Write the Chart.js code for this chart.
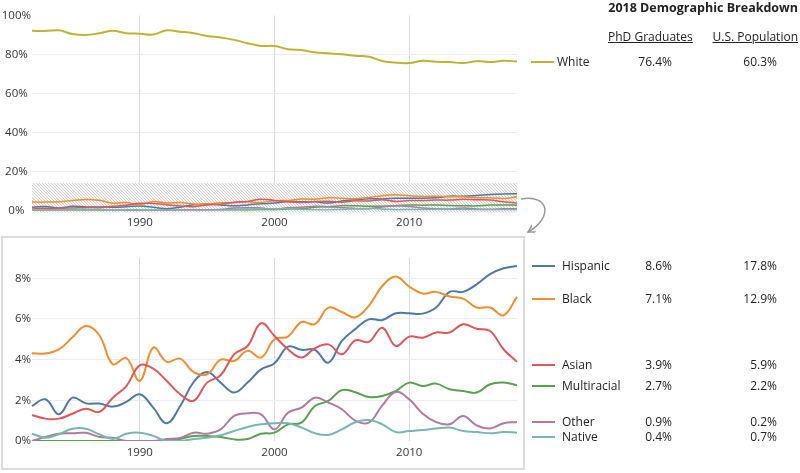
<!DOCTYPE html>
<html>
<head>
<meta charset="utf-8">
<script src="https://cdn.jsdelivr.net/npm/chart.js@4.4.1/dist/chart.umd.min.js"></script>
<style>
  body { margin: 0; width: 800px; height: 473px; position: relative; background: #fff; overflow: hidden;
         font-family: 'Open Sans', sans-serif; color: #222; }
  canvas { position: absolute; left: 0; }
  #topChart { top: 0; }
  #bottomChart { top: 240px; }
  .box { position: absolute; left: 1px; top: 236px; width: 520px; height: 230px; border: 2px solid #dcdcdc; }
  .txt { position: absolute; white-space: nowrap; font-size: 12px; line-height: 16px; }
  .swatch { position: absolute; width: 23px; height: 2px; }
  #arrow { position: absolute; left: 0; top: 0; pointer-events: none; }
</style>
</head>
<body>
<div class="box"></div>
<canvas id="topChart" width="525" height="232"></canvas>
<canvas id="bottomChart" width="525" height="228"></canvas>
<svg id="arrow" width="800" height="473">
  <defs>
    <marker id="ah" markerWidth="10" markerHeight="10" refX="7" refY="4" orient="auto" markerUnits="userSpaceOnUse">
      <path d="M0,0 L7,4 L0,8" fill="none" stroke="#999" stroke-width="1.5"/>
    </marker>
  </defs>
  <path d="M521,199 C550,194 553,218 528,232" fill="none" stroke="#999" stroke-width="1.5" marker-end="url(#ah)"/>
</svg>
<div id="legend"></div>

<script>
const years = [1982, 1983, 1984, 1985, 1986, 1987, 1988, 1989, 1990, 1991, 1992, 1993, 1994,
               1995, 1996, 1997, 1998, 1999, 2000, 2001, 2002, 2003, 2004, 2005, 2006, 2007,
               2008, 2009, 2010, 2011, 2012, 2013, 2014, 2015, 2016, 2017, 2018];
const tickYears = [1990, 2000, 2010];

// share of PhD graduates, percent
const white = [92.2, 92.0, 92.4, 90.5, 90.0, 90.9, 92.2, 90.9, 90.7, 90.2, 92.4, 91.7, 90.9,
               89.5, 88.7, 87.5, 85.8, 84.4, 84.4, 82.7, 82.3, 81.1, 80.6, 80.1, 79.4, 78.9,
               76.7, 75.8, 75.6, 76.8, 76.3, 76.1, 75.6, 76.6, 76.1, 76.8, 76.4];
const hispanic = [1.72, 2.05, 1.31, 2.13, 1.85, 1.84, 1.69, 1.92, 2.3, 1.64, 0.87, 1.72, 2.9,
                  3.39, 2.87, 2.38, 2.87, 3.52, 3.82, 4.64, 4.48, 4.48, 3.85, 4.92, 5.5, 5.98,
                  5.95, 6.28, 6.28, 6.26, 6.56, 7.33, 7.33, 7.7, 8.2, 8.49, 8.6];
const black = [4.31, 4.3, 4.5, 5.1, 5.65, 5.2, 3.77, 4.08, 2.95, 4.59, 3.89, 4.05, 3.38,
               3.28, 4.0, 3.93, 4.43, 4.1, 5.0, 5.13, 5.85, 5.74, 6.56, 6.34, 6.08, 6.64,
               7.62, 8.08, 7.59, 7.25, 7.33, 7.1, 7.0, 6.56, 6.56, 6.18, 7.08];
const asian = [1.28, 1.1, 1.1, 1.34, 1.59, 1.43, 2.13, 2.7, 3.72, 3.56, 2.95, 2.3, 1.98,
               2.87, 3.23, 4.26, 4.67, 5.79, 5.16, 4.51, 4.1, 4.56, 4.75, 4.26, 4.95, 4.87,
               5.57, 4.67, 5.13, 5.08, 5.33, 5.33, 5.74, 5.52, 5.41, 4.51, 3.89];
const multiracial = [0, 0, 0, 0, 0, 0, 0, 0, 0, 0, 0, 0.1, 0.25,
                     0.25, 0.2, 0.08, 0.1, 0.36, 0.41, 0.82, 0.9, 1.72, 1.97, 2.5, 2.4, 2.16,
                     2.21, 2.46, 2.87, 2.7, 2.82, 2.54, 2.46, 2.38, 2.79, 2.87, 2.74];
const other = [0, 0.2, 0.36, 0.38, 0.4, 0.2, 0.16, 0, 0, 0, 0.1, 0.15, 0.41,
               0.36, 0.57, 1.23, 1.36, 1.31, 0.57, 1.39, 1.64, 2.13, 1.89, 1.56, 1.0, 0.9,
               1.75, 2.41, 2.05, 1.34, 0.93, 0.82, 1.23, 0.77, 0.62, 0.87, 0.93];
const native = [0.36, 0.16, 0.33, 0.6, 0.6, 0.33, 0.1, 0.36, 0.41, 0.25, 0, 0, 0.1,
                0.16, 0.28, 0.49, 0.69, 0.82, 0.87, 0.87, 0.66, 0.38, 0.3, 0.57, 0.92, 1.03,
                0.82, 0.44, 0.49, 0.54, 0.61, 0.66, 0.49, 0.44, 0.38, 0.44, 0.41];

// 2018 breakdown table
const groupNames = ['White', 'Hispanic', 'Black', 'Asian', 'Multiracial', 'Other', 'Native'];
const phdShare = ['76.4%', '8.6%', '7.1%', '3.9%', '2.7%', '0.9%', '0.4%'];
const usShare = ['60.3%', '17.8%', '12.9%', '5.9%', '2.2%', '0.2%', '0.7%'];

const topTicks = [0, 20, 40, 60, 80, 100];
const bottomTicks = [0, 2, 4, 6, 8];
const hatchTop = 14;

const colors = {
    White: '#c2b232', Hispanic: '#4e79a7', Black: '#f28e2b', Asian: '#e15759',
    Multiracial: '#59a14f', Other: '#b07aa1', Native: '#76b7b2'
};

Chart.defaults.font.family = "'Open Sans', sans-serif";
Chart.defaults.color = '#333';

function lineSet(label, data, width) {
    return { label, data, borderColor: colors[label], borderWidth: width, pointRadius: 0,
             tension: 0.4, fill: false };
}

function hatchPattern(ctx) {
    const c = document.createElement('canvas');
    c.width = 3; c.height = 3;
    const g = c.getContext('2d');
    g.fillStyle = '#f7f7f7';
    g.fillRect(0, 0, 3, 3);
    g.strokeStyle = '#c6c6c6';
    g.lineWidth = 0.9;
    g.beginPath();
    g.moveTo(0, 0); g.lineTo(3, 3);
    g.moveTo(-1, 2); g.lineTo(1, 4);
    g.moveTo(2, -1); g.lineTo(4, 1);
    g.stroke();
    return ctx.createPattern(c, 'repeat');
}

const hatchPlugin = {
    id: 'hatch',
    beforeDatasetsDraw(chart, args, opts) {
        if (opts.upTo == null) return;
        const { ctx, chartArea, scales } = chart;
        const top = scales.y.getPixelForValue(opts.upTo);
        ctx.save();
        ctx.fillStyle = hatchPattern(ctx);
        ctx.fillRect(chartArea.left, top, chartArea.right - chartArea.left, chartArea.bottom + 2 - top);
        ctx.restore();
    }
};

function makeOptions(yMax, yTicks, xHeight, padTop, hatch) {
    return {
        responsive: false,
        animation: false,
        layout: { padding: { top: padTop, right: 8, left: 0, bottom: 0 } },
        plugins: { legend: { display: false }, tooltip: { enabled: false }, hatch: { upTo: hatch } },
        scales: {
            x: {
                type: 'category',
                offset: false,
                border: { display: false },
                grid: {
                    drawTicks: false,
                    color: ctx => tickYears.includes(years[ctx.index]) ? '#dadada' : 'rgba(0,0,0,0)'
                },
                ticks: {
                    autoSkip: false, maxRotation: 0, minRotation: 0, padding: 5,
                    font: { size: 11.5 },
                    callback: (v, i) => tickYears.includes(years[i]) ? String(years[i]) : ''
                },
                afterFit: s => { s.height = xHeight; }
            },
            y: {
                min: 0, max: yMax,
                border: { display: false },
                grid: {
                    drawTicks: false,
                    color: ctx => (ctx.tick && ctx.tick.value > 0 && ctx.tick.value < yMax) ? '#ececec' : 'rgba(0,0,0,0)'
                },
                ticks: { padding: 1, crossAlign: 'center', font: { size: 11.5 }, callback: v => v + '%' },
                afterBuildTicks: s => { s.ticks = yTicks.map(v => ({ value: v })); },
                afterFit: s => { s.width = 32; }
            }
        }
    };
}

const topChart = new Chart(document.getElementById('topChart'), {
    type: 'line',
    data: {
        labels: years,
        datasets: [
            lineSet('Native', native, 1.5),
            lineSet('Other', other, 1.5),
            lineSet('Multiracial', multiracial, 1.5),
            lineSet('Asian', asian, 1.5),
            lineSet('Black', black, 1.5),
            lineSet('Hispanic', hispanic, 1.5),
            lineSet('White', white, 2)
        ]
    },
    options: makeOptions(100, topTicks, 21.5, 15.5, hatchTop),
    plugins: [hatchPlugin]
});

const bottomChart = new Chart(document.getElementById('bottomChart'), {
    type: 'line',
    data: {
        labels: years,
        datasets: [
            lineSet('Native', native, 2),
            lineSet('Other', other, 2),
            lineSet('Multiracial', multiracial, 2),
            lineSet('Asian', asian, 2),
            lineSet('Black', black, 2),
            lineSet('Hispanic', hispanic, 2)
        ]
    },
    options: makeOptions(9, bottomTicks, 27, 17.9, null),
    plugins: [hatchPlugin]
});

// right-hand table
const legend = document.getElementById('legend');
function addText(text, css) {
    const el = document.createElement('div');
    el.className = 'txt';
    el.textContent = text;
    Object.assign(el.style, css);
    legend.appendChild(el);
    return el;
}

addText('2018 Demographic Breakdown', { right: '2px', top: '0px', fontWeight: '700', fontSize: '12.5px' });
addText('PhD Graduates', { left: '608px', top: '29px', textDecoration: 'underline' });
addText('U.S. Population', { right: '2px', top: '29px', textDecoration: 'underline' });

// row centres follow each series' last value, nudged apart where they crowd
const lastValues = [white, hispanic, black, asian, multiracial, other, native].map(a => a[a.length - 1]);
const nudge = [0, 0, 2, 3, 1, 0, 4];
groupNames.forEach((name, i) => {
    const chart = i === 0 ? topChart : bottomChart;
    const offset = i === 0 ? 0 : 240;
    const cy = offset + chart.scales.y.getPixelForValue(lastValues[i]) + nudge[i];
    const sw = document.createElement('div');
    sw.className = 'swatch';
    sw.style.left = (i === 0 ? 531 : 532) + 'px';
    sw.style.top = (cy - 1) + 'px';
    sw.style.background = colors[name];
    legend.appendChild(sw);
    addText(name, { left: (i === 0 ? 557 : 562) + 'px', top: (cy - 8) + 'px' });
    addText(phdShare[i], { right: '128px', top: (cy - 8) + 'px' });
    addText(usShare[i], { right: '23px', top: (cy - 8) + 'px' });
});
</script>
</body>
</html>
